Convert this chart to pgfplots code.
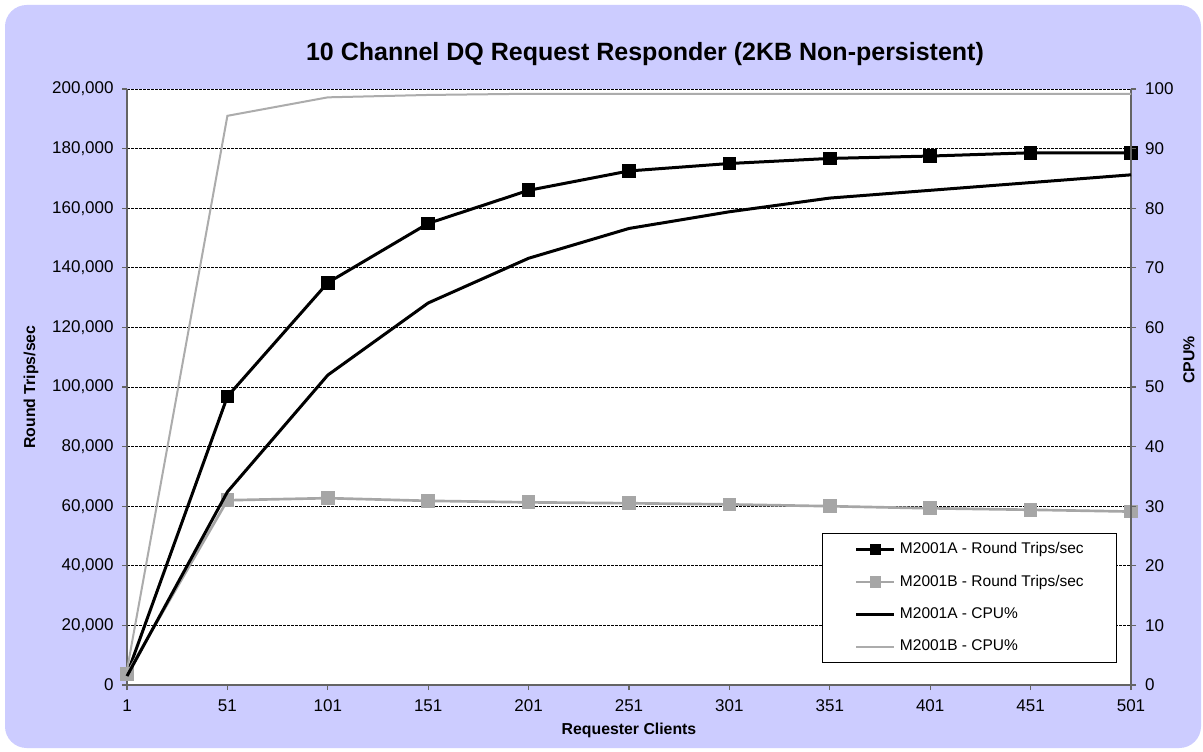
\documentclass[border=0pt]{standalone}
\usepackage{fontspec}
\setmainfont{Liberation Sans}
\usepackage{pgfplots}
\pgfplotsset{compat=1.18}
\definecolor{bgl}{RGB}{204,204,255}
\definecolor{grA}{RGB}{166,166,166}
\definecolor{grB}{RGB}{172,172,172}
\definecolor{axg}{RGB}{100,100,100}
\pgfplotsset{
  common/.style={
    at={(76.2pt,39.6pt)}, anchor=south west, scale only axis,
    width=602.4pt, height=357.6pt,
    xmin=1, xmax=501, clip=false,
    axis line style={-, draw=axg, line width=1.2pt},
    tick align=outside, major tick length=3pt,
    tick style={draw=axg, line width=0.8pt},
    ticklabel style={font=\fontsize{10.2}{12}\selectfont},
    /pgf/number format/assume math mode=true,
  }
}
\begin{document}
\begin{tikzpicture}
\path[use as bounding box, fill=white] (0pt,0pt) rectangle (721.8pt,450.6pt);
\fill[bgl, rounded corners=13pt] (3pt,1.8pt) rectangle (720.6pt,447.6pt);

\begin{axis}[common,
  ymin=0, ymax=200000,
  xtick={1,51,...,501}, ytick={0,20000,...,200000},
  axis x line*=bottom, axis y line*=left,
  ymajorgrids, major grid style={black, line width=0.5pt, dash pattern=on 1.5pt off 0.9pt},
  scaled y ticks=false,
  yticklabel style={xshift=-1.5pt, /pgf/number format/.cd, fixed, 1000 sep={,}, assume math mode=true},
  xticklabel style={yshift=-2.5pt},
  axis background/.style={fill=white},
]
\addplot[black, line width=1.8pt, mark=square*, mark size=3.2pt] coordinates {
 (1,3500) (51,96800) (101,135000) (151,154900) (201,166000) (251,172500)
 (301,175000) (351,176700) (401,177500) (451,178600) (501,178600)};
\addplot[grA, line width=1.6pt, mark=square*, mark size=3.3pt] coordinates {
 (1,3800) (51,62000) (101,62700) (151,61800) (201,61300) (251,61000)
 (301,60600) (351,60000) (401,59300) (451,58800) (501,58200)};
\end{axis}

\begin{axis}[common,
  ymin=0, ymax=100,
  ytick={0,10,...,100},
  yticklabel style={xshift=2pt},
  axis x line=none, axis y line*=right,
  legend style={at={(rel axis cs:0.6922,0.255)}, anchor=north west,
    draw=black, line width=0.6pt, fill=white,
    font=\fontsize{9.3}{11}\selectfont,
    inner xsep=19.5pt, inner ysep=5.5pt, row sep=11.2pt,
    nodes={inner sep=0pt},
    /tikz/every even column/.append style={text height=6.7pt, text depth=1.9pt},
    /tikz/every odd column/.append style={column sep=2.4pt}},
  legend cell align=left,
  legend image code/.code={\draw[mark repeat=2,mark phase=2,#1] plot coordinates {(0pt,0pt) (11.4pt,0pt) (22.8pt,0pt)};},
]
\addlegendimage{black, line width=1.8pt, mark=square*, mark size=2.6pt}
\addlegendentry{M2001A - Round Trips/sec}
\addlegendimage{grA, line width=1.6pt, mark=square*, mark size=2.6pt}
\addlegendentry{M2001B - Round Trips/sec}
\addplot[black, line width=1.8pt] coordinates {
 (1,1.5) (51,32.4) (101,52.0) (151,64.1) (201,71.6) (251,76.6)
 (301,79.4) (351,81.7) (401,83.0) (451,84.3) (501,85.6)};
\addlegendentry{M2001A - CPU\%}
\addplot[grB, line width=1.2pt] coordinates {
 (1,2.5) (51,95.5) (101,98.6) (151,99.0) (201,99.2) (251,99.2)
 (301,99.2) (351,99.2) (401,99.2) (451,99.2) (501,99.2)};
\addlegendentry{M2001B - CPU\%}
\end{axis}

\node[font=\bfseries\fontsize{15}{18}\selectfont] at (387pt,418.2pt) {10 Channel DQ Request Responder (2KB Non-persistent)};
\node[font=\bfseries\fontsize{9.5}{11}\selectfont] at (377.4pt,12.6pt) {Requester Clients};
\node[font=\bfseries\fontsize{9.5}{11}\selectfont, rotate=90] at (18.6pt,218.4pt) {Round Trips/sec};
\node[font=\bfseries\fontsize{9.5}{11}\selectfont, rotate=90] at (713.4pt,234.6pt) {CPU\%};
\end{tikzpicture}
\end{document}
